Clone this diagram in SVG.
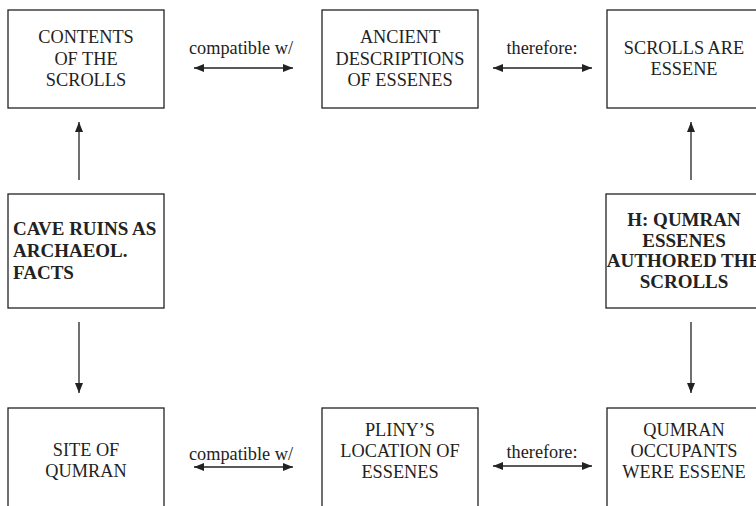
<svg xmlns="http://www.w3.org/2000/svg" width="756" height="506" viewBox="0 0 756 506">
<defs>
<style>
.box{fill:#fff;stroke:#222;stroke-width:1.3}
.t{font-family:'Liberation Serif','Times New Roman',serif;font-size:18.3px;fill:#222;text-anchor:middle}
.b{font-family:'Liberation Serif','Times New Roman',serif;font-size:19px;font-weight:bold;fill:#222}
.bc{text-anchor:middle}
.ln{stroke:#222;stroke-width:1.3;fill:none}
</style>
<marker id="ah" viewBox="0 0 10 8" refX="10" refY="4" markerWidth="10" markerHeight="8" markerUnits="userSpaceOnUse" orient="auto-start-reverse">
<path d="M0,0 L10,4 L0,8 Z" fill="#222"/>
</marker>
</defs>
<rect width="756" height="506" fill="#fff"/>
<g id="n-contents">
<rect class="box" x="8" y="10" width="156" height="98"/>
<text class="t" x="86" y="43">CONTENTS</text>
<text class="t" x="86" y="64.5">OF THE</text>
<text class="t" x="86" y="86">SCROLLS</text>
</g>
<g id="n-ancient">
<rect class="box" x="322" y="10" width="156" height="98"/>
<text class="t" x="400" y="43">ANCIENT</text>
<text class="t" x="400" y="64.5">DESCRIPTIONS</text>
<text class="t" x="400" y="86">OF ESSENES</text>
</g>
<g id="n-scrolls-essene">
<rect class="box" x="607" y="10" width="156" height="98"/>
<text class="t" x="684" y="53.5">SCROLLS ARE</text>
<text class="t" x="684" y="75">ESSENE</text>
</g>
<g id="n-cave">
<rect class="box" x="8" y="194" width="156" height="114"/>
<text class="b" x="13" y="235">CAVE RUINS AS</text>
<text class="b" x="13" y="257">ARCHAEOL.</text>
<text class="b" x="13" y="279">FACTS</text>
</g>
<g id="n-hyp">
<rect class="box" x="606" y="194" width="156" height="114"/>
<text class="b bc" x="684" y="226">H: QUMRAN</text>
<text class="b bc" x="684" y="246.5">ESSENES</text>
<text class="b bc" x="684" y="267">AUTHORED THE</text>
<text class="b bc" x="684" y="287.5">SCROLLS</text>
</g>
<g id="n-site">
<rect class="box" x="8" y="408" width="156" height="110"/>
<text class="t" x="86" y="456">SITE OF</text>
<text class="t" x="86" y="477">QUMRAN</text>
</g>
<g id="n-pliny">
<rect class="box" x="322" y="408" width="156" height="110"/>
<text class="t" x="400" y="436">PLINY’S</text>
<text class="t" x="400" y="457">LOCATION OF</text>
<text class="t" x="400" y="478">ESSENES</text>
</g>
<g id="n-occupants">
<rect class="box" x="607" y="408" width="156" height="110"/>
<text class="t" x="684" y="436">QUMRAN</text>
<text class="t" x="684" y="457">OCCUPANTS</text>
<text class="t" x="684" y="478">WERE ESSENE</text>
</g>
<g id="connectors">
<line class="ln" x1="194" y1="68" x2="293" y2="68" marker-start="url(#ah)" marker-end="url(#ah)"/>
<text class="t" x="241" y="54">compatible w/</text>
<line class="ln" x1="493" y1="68" x2="592" y2="68" marker-start="url(#ah)" marker-end="url(#ah)"/>
<text class="t" x="542" y="54">therefore:</text>
<line class="ln" x1="194" y1="467" x2="293" y2="467" marker-start="url(#ah)" marker-end="url(#ah)"/>
<text class="t" x="241" y="460">compatible w/</text>
<line class="ln" x1="493" y1="466" x2="592" y2="466" marker-start="url(#ah)" marker-end="url(#ah)"/>
<text class="t" x="542" y="458">therefore:</text>
<line class="ln" x1="79" y1="180" x2="79" y2="122" marker-end="url(#ah)"/>
<line class="ln" x1="79" y1="322" x2="79" y2="393" marker-end="url(#ah)"/>
<line class="ln" x1="691" y1="180" x2="691" y2="122" marker-end="url(#ah)"/>
<line class="ln" x1="691" y1="322" x2="691" y2="393" marker-end="url(#ah)"/>
</g>
</svg>
